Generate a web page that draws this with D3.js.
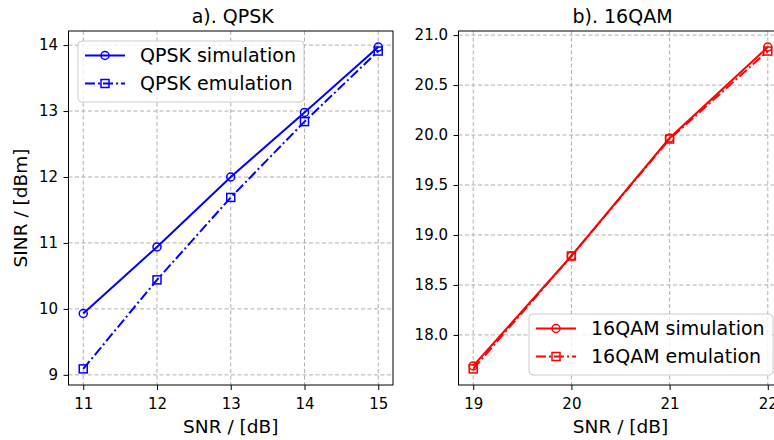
<!DOCTYPE html>
<html>
<head>
<meta charset="utf-8">
<script src="https://cdn.jsdelivr.net/npm/d3@7"></script>
<style>
  body { margin: 0; background: #fff; }
  svg { display: block; font-family: "DejaVu Sans", sans-serif; }
</style>
</head>
<body>
<svg width="774" height="440"></svg>
<script>
// data
var snrQpsk = [11, 12, 13, 14, 15];
var qpskSim = [9.93, 10.94, 12.0, 12.98, 13.97];
var qpskEmu = [9.09, 10.44, 11.69, 12.84, 13.91];

var snrQam = [19, 20, 21, 22];
var qamSim = [17.69, 18.79, 19.97, 20.88];
var qamEmu = [17.66, 18.79, 19.96, 20.84];

var qpskXTicks = [11, 12, 13, 14, 15];
var qpskYTicks = [9, 10, 11, 12, 13, 14];
var qamXTicks = [19, 20, 21, 22];
var qamYTicks = [18.0, 18.5, 19.0, 19.5, 20.0, 20.5, 21.0];

var svg = d3.select("svg");

// pad extent by 5% like matplotlib autoscale
function padded(vals) {
  var e = d3.extent(vals);
  var m = (e[1] - e[0]) * 0.05;
  return [e[0] - m, e[1] + m];
}

function styleAxis(sel) {
  sel.attr("font-family", "DejaVu Sans, sans-serif").attr("font-size", 15);
  sel.select(".domain").remove();
  sel.selectAll(".tick line").attr("stroke", "#000");
  sel.selectAll(".tick text").attr("fill", "#000");
}

function drawPanel(opt) {
  var box = opt.box;
  var g = svg.append("g");

  var xScale = d3.scaleLinear()
    .domain(padded(opt.x))
    .range([box.left, box.right]);
  var yScale = d3.scaleLinear()
    .domain(padded(opt.sim.concat(opt.emu)))
    .range([box.bottom, box.top]);

  // grid
  var grid = g.append("g")
    .attr("stroke", "#b0b0b0")
    .attr("stroke-width", 1)
    .attr("stroke-dasharray", "4,2.5");
  grid.selectAll(".gx")
    .data(opt.xTicks)
    .enter().append("line")
      .attr("x1", function(d) { return xScale(d); })
      .attr("x2", function(d) { return xScale(d); })
      .attr("y1", box.top)
      .attr("y2", box.bottom);
  grid.selectAll(".gy")
    .data(opt.yTicks)
    .enter().append("line")
      .attr("x1", box.left)
      .attr("x2", box.right)
      .attr("y1", function(d) { return yScale(d); })
      .attr("y2", function(d) { return yScale(d); });

  var clipId = "clip" + opt.id;
  svg.append("clipPath").attr("id", clipId)
    .append("rect")
      .attr("x", box.left).attr("y", box.top)
      .attr("width", box.right - box.left)
      .attr("height", box.bottom - box.top);

  var plot = g.append("g").attr("clip-path", "url(#" + clipId + ")");

  var line = d3.line()
    .x(function(d) { return xScale(d[0]); })
    .y(function(d) { return yScale(d[1]); });

  var simData = opt.x.map(function(v, i) { return [v, opt.sim[i]]; });
  var emuData = opt.x.map(function(v, i) { return [v, opt.emu[i]]; });

  plot.append("path")
    .datum(simData)
    .attr("fill", "none")
    .attr("stroke", opt.color)
    .attr("stroke-width", 2)
    .attr("d", line);
  plot.selectAll(".sim")
    .data(simData)
    .enter().append("circle")
      .attr("cx", function(d) { return xScale(d[0]); })
      .attr("cy", function(d) { return yScale(d[1]); })
      .attr("r", 4)
      .attr("fill", "none")
      .attr("stroke", opt.color)
      .attr("stroke-width", 1.5);

  plot.append("path")
    .datum(emuData)
    .attr("fill", "none")
    .attr("stroke", opt.color)
    .attr("stroke-width", 2)
    .attr("stroke-dasharray", "10,3,2,3")
    .attr("d", line);
  plot.selectAll(".emu")
    .data(emuData)
    .enter().append("rect")
      .attr("x", function(d) { return xScale(d[0]) - 4; })
      .attr("y", function(d) { return yScale(d[1]) - 4; })
      .attr("width", 8)
      .attr("height", 8)
      .attr("fill", "none")
      .attr("stroke", opt.color)
      .attr("stroke-width", 1.5);

  // axes
  g.append("g")
    .attr("transform", "translate(0," + box.bottom + ")")
    .call(d3.axisBottom(xScale).tickValues(opt.xTicks).tickSize(5).tickPadding(8)
      .tickFormat(d3.format("d")))
    .call(styleAxis);
  g.append("g")
    .attr("transform", "translate(" + box.left + ",0)")
    .call(d3.axisLeft(yScale).tickValues(opt.yTicks).tickSize(5).tickPadding(5.5)
      .tickFormat(d3.format(opt.yFormat)))
    .call(styleAxis);

  g.append("rect")
    .attr("x", box.left).attr("y", box.top)
    .attr("width", box.right - box.left)
    .attr("height", box.bottom - box.top)
    .attr("fill", "none")
    .attr("stroke", "#000")
    .attr("stroke-width", 1);

  var cx = (box.left + box.right) / 2;
  g.append("text")
    .attr("x", cx + 2)
    .attr("y", 23)
    .attr("text-anchor", "middle")
    .style("font-size", "19px")
    .text(opt.title);
  g.append("text")
    .attr("x", cx)
    .attr("y", 433)
    .attr("text-anchor", "middle")
    .style("font-size", "18.5px")
    .text("SNR / [dB]");

  if (opt.yLabel) {
    g.append("text")
      .attr("transform", "translate(27," + ((box.top + box.bottom) / 2) + ") rotate(-90)")
      .attr("text-anchor", "middle")
      .style("font-size", "18.5px")
      .text(opt.yLabel);
  }

  // legend
  var lg = opt.legend;
  var legend = g.append("g");
  legend.append("rect")
    .attr("x", lg.x).attr("y", lg.y)
    .attr("width", lg.w).attr("height", lg.h)
    .attr("rx", 4)
    .attr("fill", "#fff")
    .attr("fill-opacity", 0.8)
    .attr("stroke", "#cccccc")
    .attr("stroke-width", 1);
  var rows = [opt.names[0], opt.names[1]];
  rows.forEach(function(name, i) {
    var ry = lg.y + 14.5 + i * 28;
    var hx = lg.x + 7;
    legend.append("line")
      .attr("x1", hx).attr("x2", hx + 40)
      .attr("y1", ry).attr("y2", ry)
      .attr("stroke", opt.color)
      .attr("stroke-width", 2)
      .attr("stroke-dasharray", i === 1 ? "10,3,2,3" : null);
    if (i === 0) {
      legend.append("circle")
        .attr("cx", hx + 20).attr("cy", ry).attr("r", 4)
        .attr("fill", "none").attr("stroke", opt.color).attr("stroke-width", 1.5);
    } else {
      legend.append("rect")
        .attr("x", hx + 16).attr("y", ry - 4).attr("width", 8).attr("height", 8)
        .attr("fill", "none").attr("stroke", opt.color).attr("stroke-width", 1.5);
    }
    legend.append("text")
      .attr("x", hx + 55)
      .attr("y", ry)
      .attr("dy", "0.36em")
      .style("font-size", "19px")
      .text(name);
  });
}

drawPanel({
  id: "a",
  box: {left: 68.5, right: 393, top: 31, bottom: 385},
  x: snrQpsk, sim: qpskSim, emu: qpskEmu,
  xTicks: qpskXTicks, yTicks: qpskYTicks, yFormat: "d",
  color: "#0000ff",
  title: "a). QPSK",
  yLabel: "SINR / [dBm]",
  names: ["QPSK simulation", "QPSK emulation"],
  legend: {x: 78, y: 41, w: 226, h: 61}
});

drawPanel({
  id: "b",
  box: {left: 458.5, right: 782.5, top: 31, bottom: 385},
  x: snrQam, sim: qamSim, emu: qamEmu,
  xTicks: qamXTicks, yTicks: qamYTicks, yFormat: ".1f",
  color: "#ff0000",
  title: "b). 16QAM",
  yLabel: null,
  names: ["16QAM simulation", "16QAM emulation"],
  legend: {x: 529, y: 314, w: 244, h: 61}
});
</script>
</body>
</html>
